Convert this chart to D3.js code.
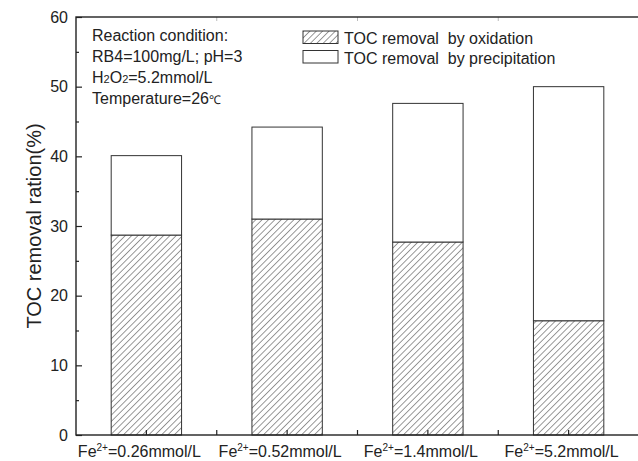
<!DOCTYPE html>
<html>
<head>
<meta charset="utf-8">
<script src="https://cdn.jsdelivr.net/npm/d3@7"></script>
<style>
  body { margin: 0; background: #fff; }
  text { font-family: "Liberation Sans", Arial, sans-serif; fill: #222; }
</style>
</head>
<body>
<div id="my_dataviz"></div>
<script>
// data
var doses = ["0.26", "0.52", "1.4", "5.2"];
var oxidation = [28.7, 31.0, 27.7, 16.4];
var precipitation = [11.4, 13.2, 19.9, 33.6];
var yTicks = [0, 10, 20, 30, 40, 50, 60];
var conditionLines = ["Reaction condition:", "RB4=100mg/L; pH=3", "H2O2=5.2mmol/L", "Temperature=26"];

// set the dimensions and margins of the graph
var margin = {top: 17, right: -1, bottom: 26, left: 76},
    width = 638 - margin.left - margin.right,
    height = 461 - margin.top - margin.bottom;

var root = d3.select("#my_dataviz")
  .append("svg")
    .attr("width", 638)
    .attr("height", 461);

// hatch pattern
root.append("defs").append("pattern")
    .attr("id", "hatch")
    .attr("patternUnits", "userSpaceOnUse")
    .attr("width", 4.5)
    .attr("height", 4.5)
    .attr("patternTransform", "rotate(45)")
  .append("line")
    .attr("x1", 0).attr("y1", 0)
    .attr("x2", 0).attr("y2", 4.5)
    .attr("stroke", "#333")
    .attr("stroke-width", 1);

var svg = root.append("g")
    .attr("transform", "translate(" + margin.left + "," + margin.top + ")");

var rows = doses.map(function(d, i) {
  return {dose: d, oxidation: oxidation[i], precipitation: precipitation[i]};
});

var x = d3.scaleBand()
  .domain(doses)
  .range([0, width])
  .paddingInner(0.5)
  .paddingOuter(0.25);

var y = d3.scaleLinear()
  .domain([0, 60])
  .range([height, 0]);

var stack = d3.stack().keys(["oxidation", "precipitation"])(rows);
var fills = {oxidation: "url(#hatch)", precipitation: "#fff"};

// Bars
svg.selectAll(".layer")
  .data(stack)
  .enter()
  .append("g")
    .attr("fill", function(d) { return fills[d.key]; })
  .selectAll("rect")
  .data(function(d) { return d; })
  .enter()
  .append("rect")
    .attr("x", function(d) { return x(d.data.dose); })
    .attr("y", function(d) { return y(d[1]); })
    .attr("width", x.bandwidth())
    .attr("height", function(d) { return y(d[0]) - y(d[1]); })
    .attr("stroke", "#333")
    .attr("stroke-width", 1);

// band boundaries for the small ticks between bars
var step = x.step();
var bounds = doses.slice(1).map(function(d) { return x(d) - x.bandwidth() / 2; });

// Y axis (ticks inside)
var yAxis = svg.append("g")
  .call(d3.axisLeft(y).tickValues(yTicks).tickSize(-6).tickPadding(8));
yAxis.select(".domain").remove();
yAxis.selectAll("text").style("font-size", "16px");
yAxis.selectAll("line").attr("stroke", "#222").attr("stroke-width", 1.2);
svg.append("g")
  .call(d3.axisLeft(y).tickValues(d3.range(5, 60, 10)).tickSize(-3).tickFormat(""))
  .call(function(g) { g.select(".domain").remove(); })
  .selectAll("line").attr("stroke", "#222").attr("stroke-width", 1.2);

// X axis (ticks inside)
var xAxis = svg.append("g")
  .attr("transform", "translate(0," + height + ")")
  .call(d3.axisBottom(x).tickSize(-5).tickFormat(""));
xAxis.select(".domain").remove();
xAxis.selectAll("line").attr("stroke", "#222").attr("stroke-width", 1.2);
svg.append("g")
  .attr("transform", "translate(0," + height + ")")
  .selectAll("line")
  .data(bounds)
  .enter()
  .append("line")
    .attr("x1", function(d) { return d; })
    .attr("x2", function(d) { return d; })
    .attr("y1", 0)
    .attr("y2", -5)
    .attr("stroke", "#222")
    .attr("stroke-width", 1.2);

// top ticks (faint)
svg.append("g")
  .selectAll("line")
  .data(bounds)
  .enter()
  .append("line")
    .attr("x1", function(d) { return d; })
    .attr("x2", function(d) { return d; })
    .attr("y1", 0)
    .attr("y2", 4)
    .attr("stroke", "#bbb");

// frame
svg.append("rect")
  .attr("width", width)
  .attr("height", height)
  .attr("fill", "none")
  .attr("stroke", "#222")
  .attr("stroke-width", 1.4);

// x labels: Fe2+=...mmol/L
var xl = svg.append("g").selectAll("text")
  .data(doses)
  .enter()
  .append("text")
    .attr("x", function(d) { return x(d) + x.bandwidth() / 2 - 7; })
    .attr("y", height + 22)
    .attr("text-anchor", "middle")
    .style("font-size", "16px");
xl.append("tspan").text("Fe");
xl.append("tspan").attr("dy", -6).style("font-size", "10px").text("2+");
xl.append("tspan").attr("dy", 6).text(function(d) { return "=" + d + "mmol/L"; });

// y title
svg.append("text")
  .attr("transform", "translate(" + (41 - margin.left) + "," + (height / 2) + ")rotate(-90)")
  .attr("text-anchor", "middle")
  .style("font-size", "20px")
  .text("TOC removal ration(%)");

// reaction conditions
var cond = svg.append("g").attr("transform", "translate(" + (92 - margin.left) + "," + (40.5 - margin.top) + ")");
cond.append("text").attr("y", 0).style("font-size", "16px").text(conditionLines[0]);
cond.append("text").attr("y", 21).style("font-size", "16px").text(conditionLines[1]);
var h2o2 = cond.append("text").attr("y", 42).style("font-size", "16px");
h2o2.append("tspan").text("H");
h2o2.append("tspan").style("font-size", "11px").text("2");
h2o2.append("tspan").text("O");
h2o2.append("tspan").style("font-size", "11px").text("2");
h2o2.append("tspan").text("=5.2mmol/L");
var temp = cond.append("text").attr("y", 63).style("font-size", "16px");
temp.append("tspan").text(conditionLines[3]);
temp.append("tspan").style("font-size", "12px").text("℃");

// legend
var legendItems = [
  {label: "TOC removal  by oxidation", fill: "url(#hatch)"},
  {label: "TOC removal  by precipitation", fill: "#fff"}
];
var legend = svg.append("g").attr("transform", "translate(" + (303 - margin.left) + "," + (31 - margin.top) + ")");
legend.selectAll("rect")
  .data(legendItems)
  .enter()
  .append("rect")
    .attr("x", 0)
    .attr("y", function(d, i) { return i * 19.5; })
    .attr("width", 35)
    .attr("height", 12.5)
    .attr("fill", function(d) { return d.fill; })
    .attr("stroke", "#333");
legend.selectAll("text")
  .data(legendItems)
  .enter()
  .append("text")
    .attr("x", 41)
    .attr("y", function(d, i) { return 13 + i * 19.5; })
    .attr("xml:space", "preserve")
    .style("white-space", "pre")
    .style("font-size", "16px")
    .text(function(d) { return d.label; });
</script>
</body>
</html>
